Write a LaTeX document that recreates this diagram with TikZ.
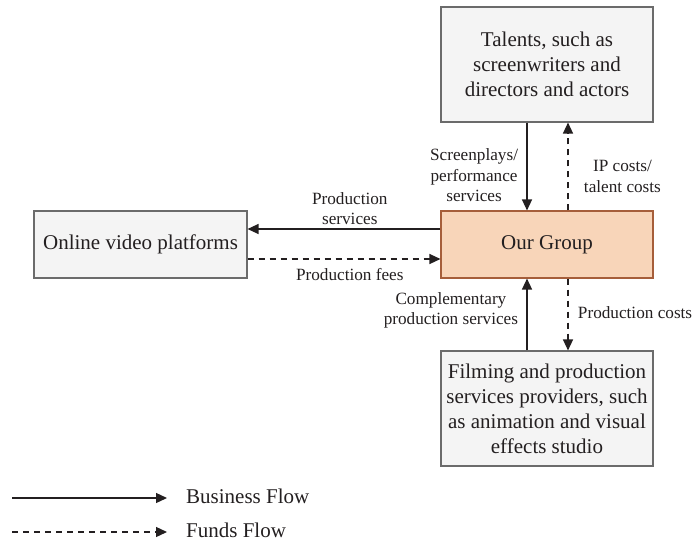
\documentclass[tikz,border=0pt]{standalone}
\usepackage{fontspec}
\setmainfont{Liberation Serif}
\usetikzlibrary{arrows.meta}

\definecolor{ink}{HTML}{231F20}
\definecolor{boxfill}{HTML}{F4F4F4}
\definecolor{boxedge}{HTML}{6B6B6B}
\definecolor{groupfill}{HTML}{F8D5B9}
\definecolor{groupedge}{HTML}{A65E3A}

\begin{document}
\begin{tikzpicture}[x=1pt,y=-1pt]
  \tikzset{entity/.style = {draw=boxedge, fill=boxfill, line width=1.1pt, minimum width=212pt, inner sep=0pt, align=center, text=ink, font=\fontsize{21}{25}\selectfont}}
  \tikzset{group/.style = {entity, draw=groupedge, fill=groupfill}}
  \tikzset{biz/.style = {-{Triangle[length=11pt,width=10pt]}, line width=1.3pt, draw=ink}}
  \tikzset{fund/.style = {biz, dash pattern=on 6pt off 5pt}}
  \tikzset{lbl/.style = {align=center, text=ink, font=\fontsize{17.2}{20.5}\selectfont}}
  \tikzset{key/.style = {inner sep=0pt, text=ink, font=\fontsize{21}{25}\selectfont}}

  \useasboundingbox (0,0) rectangle (696,543);

\node[entity, minimum height=115pt] (talent) at (547,64.5) {Talents, such as\\screenwriters and\\directors and actors};
\node[group, minimum height=67pt] (group) at (547,244.5) {Our Group};
\node[entity, minimum height=115pt] (studio) at (547,408.5) {Filming and production\\services providers, such\\as animation and visual\\effects studio};
\node[entity, minimum width=213pt, minimum height=67pt] (platform) at (140.5,244.5) {Online video platforms};

    % talents <-> group
    \draw[biz] ([xshift=-20pt]talent.south) -- node[lbl, left=5pt, pos=0.6] (screen) {Screenplays/\\performance\\services} ([xshift=-20pt]group.north);
    \draw[fund] ([xshift=21pt]group.north) -- node[lbl, right=12pt, pos=0.39] (ipcost) {IP costs/\\talent costs} ([xshift=21pt]talent.south);

    % group <-> platforms
    \draw[biz] ([yshift=15.5pt]group.west) -- node[lbl, above, pos=0.47] (prodserv) {Production\\services} ([yshift=15.5pt]platform.east);
    \draw[fund] ([yshift=-14.5pt]platform.east) -- node[lbl, below=5pt, pos=0.53] (prodfee) {Production fees} ([yshift=-14.5pt]group.west);

    % studio <-> group
    \draw[biz] ([xshift=-20pt]studio.north) -- node[lbl, left=5pt, pos=0.56] (compl) {Complementary\\production services} ([xshift=-20pt]group.south);
    \draw[fund] ([xshift=21pt]group.south) -- node[lbl, right=6pt, pos=0.47] (prodcost) {Production costs} ([xshift=21pt]studio.north);

% legend
\coordinate (bizL) at (12,498);
\coordinate (bizR) at (167,498);
\coordinate (fundL) at (12,532);
\coordinate (fundR) at (167,532);
\node[key, anchor=base west] (biztxt) at (186,503) {Business Flow};
\node[key, anchor=base west] (fundtxt) at (186,537) {Funds Flow};
    \draw[biz] (bizL) -- (bizR);
    \draw[fund] (fundL) -- (fundR);

\end{tikzpicture}
\end{document}
